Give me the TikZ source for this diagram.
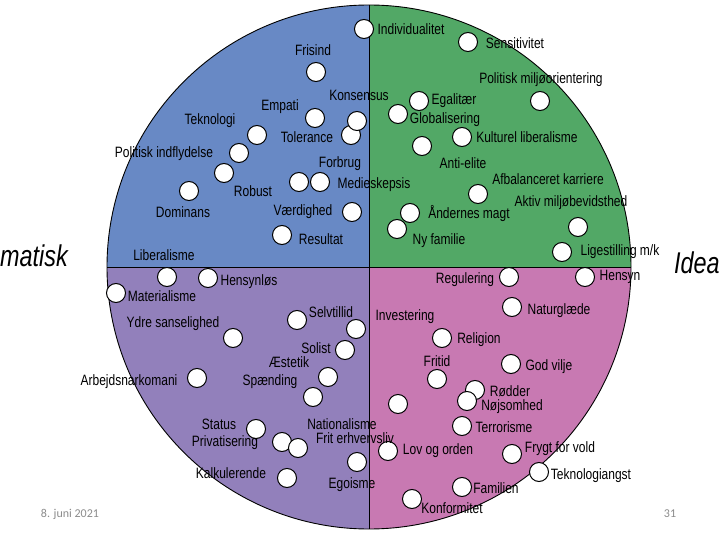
\documentclass[tikz,border=0pt]{standalone}
\usepackage{fontspec}
\usepackage{graphicx}
\setmainfont{Liberation Sans}
\newfontfamily\footfont{Carlito}
\definecolor{qblue}{RGB}{104,137,197}
\definecolor{qgreen}{RGB}{82,168,102}
\definecolor{qpurple}{RGB}{146,128,187}
\definecolor{qpink}{RGB}{200,121,178}
\definecolor{footgray}{RGB}{140,140,140}
\newcommand{\nrw}[1]{\scalebox{0.8}[1]{#1}}
\begin{document}
\begin{tikzpicture}[x=1pt,y=-1pt,
  dot/.style={circle,draw=black,fill=white,line width=1pt,minimum size=19pt,inner sep=0pt},
  lbl/.style={inner sep=0pt,text=black,font=\fontsize{15}{15}\selectfont},
  side/.style={inner sep=0pt,text=black,font=\fontsize{30}{30}\selectfont\itshape},
  foot/.style={inner sep=0pt,text=footgray,font=\footfont\fontsize{12}{12}\selectfont}]
\useasboundingbox (0,0) rectangle (720,540);
\fill[white] (0,0) rectangle (720,540);
\coordinate (C) at (369,267);
% quadrants
\begin{scope}
  \clip (C) circle[radius=262];
  \fill[qblue] (100,0) rectangle (369,267);
  \fill[qgreen] (369,0) rectangle (640,267);
  \fill[qpurple] (100,267) rectangle (369,540);
  \fill[qpink] (369,267) rectangle (640,540);
\end{scope}
\draw[line width=0.9pt] (C) circle[radius=262];
\coordinate (vt) at (369,5);
\coordinate (vb) at (369,529);
\coordinate (hl) at (107,267);
\coordinate (hr) at (631,267);
\draw[line width=0.7pt] (vt) -- (vb);
\draw[line width=0.7pt] (hl) -- (hr);
% dots: blue quadrant
\foreach \x/\y [count=\i] in {364/29,316/72,315/118,351/135,357/121,257/135,239/153,224/173,299/182,320/182,189/191,352/212,282/235}
  \node[dot] (b\i) at (\x,\y) {};
% dots: green quadrant
\foreach \x/\y [count=\i] in {468/42,540/101,419/101,398/114,462/137,422/146,478/194,578/227,410/213,397/229,562/252}
  \node[dot] (g\i) at (\x,\y) {};
% dots: purple quadrant
\foreach \x/\y [count=\i] in {167/277,208/278,116/293,233/338,297/320,356/329,345/350,328/377,197/378,313/397,256/429,282/442,298/448,357/462,287/478}
  \node[dot] (p\i) at (\x,\y) {};
% dots: pink quadrant
\foreach \x/\y [count=\i] in {509/277,585/277,512/307,442/338,437/379,511/364,475/390,467/401,398/404,462/426,388/451,512/454,539/472,462/487,412/499}
  \node[dot] (r\i) at (\x,\y) {};
% labels: blue
\node[lbl] (lb1) at (411,29) {\nrw{Individualitet}};
\node[lbl] (lb2) at (313,50) {\nrw{Frisind}};
\node[lbl] (lb3) at (359,95) {\nrw{Konsensus}};
\node[lbl] (lb4) at (280,107) {\nrw{Empati}};
\node[lbl] (lb5) at (307,137) {\nrw{Tolerance}};
\node[lbl] (lb6) at (210,121) {\nrw{Teknologi}};
\node[lbl] (lb7) at (164,154) {\nrw{Politisk indflydelse}};
\node[lbl] (lb8) at (253,191) {\nrw{Robust}};
\node[lbl] (lb9) at (340,164) {\nrw{Forbrug}};
\node[lbl] (lb10) at (374,185) {\nrw{Medieskepsis}};
\node[lbl] (lb11) at (183,212) {\nrw{Dominans}};
\node[lbl] (lb12) at (303,212) {\nrw{Værdighed}};
\node[lbl] (lb13) at (321,239) {\nrw{Resultat}};
\node[lbl] (lb14) at (164,255) {\nrw{Liberalisme}};
% labels: green
\node[lbl] (lg1) at (515,43) {\nrw{Sensitivitet}};
\node[lbl] (lg2) at (541,80) {\nrw{Politisk miljøorientering}};
\node[lbl] (lg3) at (454,101) {\nrw{Egalitær}};
\node[lbl] (lg4) at (445,120) {\nrw{Globalisering}};
\node[lbl] (lg5) at (527,137) {\nrw{Kulturel liberalisme}};
\node[lbl] (lg6) at (463,163) {\nrw{Anti-elite}};
\node[lbl] (lg7) at (548,179) {\nrw{Afbalanceret karriere}};
\node[lbl] (lg8) at (571,203) {\nrw{Aktiv miljøbevidsthed}};
\node[lbl] (lg9) at (469,214) {\nrw{Åndernes magt}};
\node[lbl] (lg10) at (439,241) {\nrw{Ny familie}};
\node[lbl] (lg11) at (620,252) {\nrw{Ligestilling m/k}};
% labels: purple
\node[lbl] (lp1) at (249,282) {\nrw{Hensynløs}};
\node[lbl] (lp2) at (162,296) {\nrw{Materialisme}};
\node[lbl] (lp3) at (173,324) {\nrw{Ydre sanselighed}};
\node[lbl] (lp4) at (331,312) {\nrw{Selvtillid}};
\node[lbl] (lp5) at (316,348) {\nrw{Solist}};
\node[lbl] (lp6) at (289,362) {\nrw{Æstetik}};
\node[lbl] (lp7) at (129,382) {\nrw{Arbejdsnarkomani}};
\node[lbl] (lp8) at (270,382) {\nrw{Spænding}};
\node[lbl] (lp9) at (219,424) {\nrw{Status}};
\node[lbl] (lp10) at (225,443) {\nrw{Privatisering}};
\node[lbl] (lp11) at (342,424) {\nrw{Nationalisme}};
\node[lbl] (lp12) at (355,438) {\nrw{Frit erhvervsliv}};
\node[lbl] (lp13) at (231,473) {\nrw{Kalkulerende}};
\node[lbl] (lp14) at (352,485) {\nrw{Egoisme}};
% labels: pink
\node[lbl] (lr1) at (465,280) {\nrw{Regulering}};
\node[lbl] (lr2) at (620,277) {\nrw{Hensyn}};
\node[lbl] (lr3) at (559,311) {\nrw{Naturglæde}};
\node[lbl] (lr4) at (405,317) {\nrw{Investering}};
\node[lbl] (lr5) at (479,340) {\nrw{Religion}};
\node[lbl] (lr6) at (437,361) {\nrw{Fritid}};
\node[lbl] (lr7) at (549,367) {\nrw{God vilje}};
\node[lbl] (lr8) at (510,391) {\nrw{Rødder}};
\node[lbl] (lr9) at (512,407) {\nrw{Nøjsomhed}};
\node[lbl] (lr10) at (504,427) {\nrw{Terrorisme}};
\node[lbl] (lr11) at (438,451) {\nrw{Lov og orden}};
\node[lbl] (lr12) at (560,449) {\nrw{Frygt for vold}};
\node[lbl] (lr13) at (591,476) {\nrw{Teknologiangst}};
\node[lbl] (lr14) at (496,488) {\nrw{Familien}};
\node[lbl] (lr15) at (452,508) {\nrw{Konformitet}};
% side words
\node[side,anchor=west] (sl) at (0,256) {\scalebox{0.78}[1]{matisk}};
\node[side,anchor=west] (sr) at (674,263) {\scalebox{0.78}[1]{Idea}};
% footer
\node[foot] (date) at (70,514) {8. juni 2021};
\node[foot] (page) at (670,514) {31};
\end{tikzpicture}
\end{document}
